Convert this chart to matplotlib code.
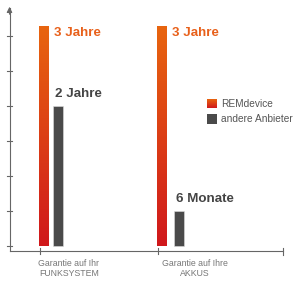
import numpy as np
import matplotlib.pyplot as plt
from matplotlib.colors import LinearSegmentedColormap

# values in months (as drawn)
categories = ['Garantie auf Ihr\nFUNKSYSTEM', 'Garantie auf Ihre\nAKKUS']
rem_values = [37.6, 37.6]
other_values = [24, 6]
rem_labels = ['3 Jahre', '3 Jahre']
other_labels = ['2 Jahre', '6 Monate']
series_names = ['REMdevice', 'andere Anbieter']

grey = '#4a4a4a'
axis_col = '#666666'
grad = LinearSegmentedColormap.from_list('rem', ['#d0181c', '#e8650f'])

plt.rcParams['font.family'] = ['Liberation Sans', 'DejaVu Sans']

fig = plt.figure(figsize=(3.0, 2.89), dpi=100)
ax = fig.add_axes([0, 0, 1, 1])
ppm = 35 / 6.0  # pixels per month
ax.axis('off')

rem_x = [39, 157.3]
oth_x = [53.3, 174]
bw = 9.5
grad_img = np.linspace(0, 1, 256).reshape(-1, 1)

for i in range(len(categories)):
    # gradient bar
    ax.imshow(grad_img, cmap=grad, origin='lower', aspect='auto',
              extent=[rem_x[i], rem_x[i] + bw, 0, rem_values[i]], zorder=2)
    ax.bar(oth_x[i], other_values[i], width=bw, align='edge', color=grey,
           edgecolor='#dddddd', linewidth=0.4, zorder=2)
    ax.text(rem_x[i] + 15, rem_values[i] - 1.0, rem_labels[i], color='#e8601a',
            fontsize=9.6, fontweight='bold', va='center', ha='left')
    ax.text(oth_x[i] + 1.5, other_values[i] + 2.1, other_labels[i], color='#444444',
            fontsize=9.6, fontweight='bold', va='center', ha='left')

# category labels
lab_x = [69, 195]
for i, c in enumerate(categories):
    ax.text(lab_x[i], -22.5 / ppm, c, color='#777777', fontsize=6.3, ha='center',
            va='center', linespacing=1.15)

# axes lines
ybase = -5 / ppm
ax.plot([9.5, 9.5], [ybase, 238 / ppm], color=axis_col, lw=0.8, zorder=1)
ax.annotate('', xy=(9.5, 285 / ppm - 43 / ppm), xytext=(9.5, 272 / ppm - 43 / ppm),
            arrowprops=dict(arrowstyle='-|>', color=axis_col, lw=0.8,
                            mutation_scale=8))
ax.plot([9.5, 283], [ybase, ybase], color=axis_col, lw=0.8, zorder=1)
ax.plot([283, 283], [ybase - 3.5 / ppm, ybase + 3.5 / ppm], color=axis_col, lw=0.8)
for tx in rem_x:
    ax.plot([tx + 1, tx + 1], [ybase - 3 / ppm, ybase + 3 / ppm], color=axis_col, lw=0.8)
for t in np.arange(0, 37, 6):
    ax.plot([7, 12], [t, t], color=axis_col, lw=0.8)

# legend
leg_y = [(289 - 104 - 43) / ppm, (289 - 119 - 43) / ppm]
ax.imshow(grad_img, cmap=grad, origin='lower', aspect='auto',
          extent=[207, 216.5, leg_y[0] - 4.5 / ppm, leg_y[0] + 4.5 / ppm], zorder=2)
ax.bar(207, 9 / ppm, bottom=leg_y[1] - 4.5 / ppm, width=9.5, align='edge', color=grey)
for y, n in zip(leg_y, series_names):
    ax.text(221, y, n, color='#555555', fontsize=7.3, va='center', ha='left')

ax.set_xlim(0, 300)
ax.set_ylim(-43 / ppm, 246 / ppm)
fig.savefig('out.png', dpi=100)
